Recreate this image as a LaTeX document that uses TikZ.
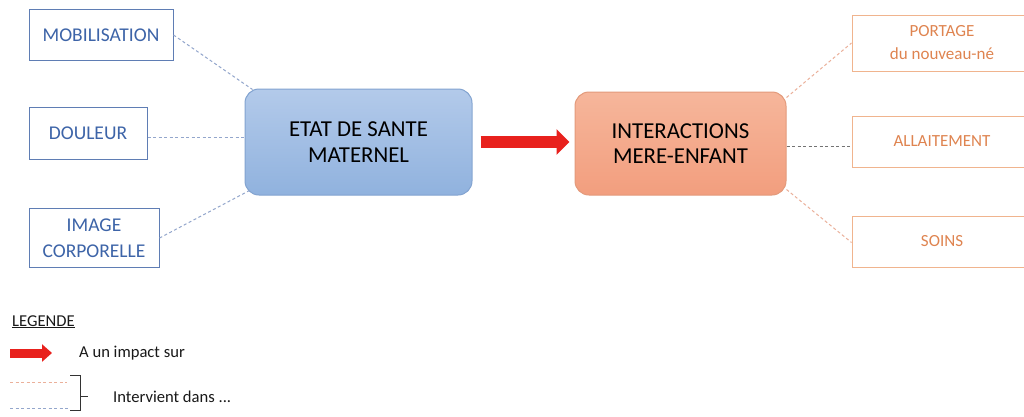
\documentclass[tikz,border=0pt]{standalone}
\usepackage{fontspec}
\setmainfont{Carlito}
\usetikzlibrary{arrows.meta,calc}
\definecolor{bluetxt}{HTML}{3D64A8}
\definecolor{blueline}{HTML}{5F7DB4}
\definecolor{bluedash}{HTML}{93A6CC}
\definecolor{orangetxt}{HTML}{DF8450}
\definecolor{orangeline}{HTML}{F0B48E}
\definecolor{orangedash}{HTML}{EBB09A}
\definecolor{redarrow}{HTML}{E8211D}
\definecolor{etattop}{HTML}{B3CAEA}
\definecolor{etatbot}{HTML}{90B2DE}
\definecolor{etatbd}{HTML}{82A3D0}
\definecolor{intertop}{HTML}{F6B69B}
\definecolor{interbot}{HTML}{F29E7E}
\definecolor{interbd}{HTML}{E39A7B}
\tikzset{
  leftbox/.style={draw=blueline, line width=1pt, text=bluetxt, align=center,
    font=\fontsize{19.5}{26}\selectfont, inner sep=0pt},
  rightbox/.style={draw=orangeline, line width=1pt, text=orangetxt, align=center,
    font=\fontsize{17}{23}\selectfont, inner sep=0pt, minimum width=180pt},
  bigbox/.style={rounded corners=14pt, line width=1pt, align=center, text=black,
    font=\fontsize{22.8}{25.5}\selectfont, inner sep=0pt},
  bluedashed/.style={draw=bluedash, line width=1pt, dash pattern=on 3pt off 2.5pt},
  orangedashed/.style={draw=orangedash, line width=1pt, dash pattern=on 3pt off 2.5pt},
  greydashed/.style={draw=black!55, line width=0.9pt, dash pattern=on 3pt off 2.5pt},
  legendtxt/.style={font=\fontsize{16.6}{19}\selectfont, text=black!90, anchor=base west, inner sep=0pt},
}
\begin{document}
\begin{tikzpicture}[x=1pt,y=-1pt]
\clip (0,0) rectangle (1024,416);
\fill[white] (0,0) rectangle (1024,416);

% left boxes
\node[leftbox, minimum width=144pt, minimum height=51pt] (mob) at (101,35) {MOBILISATION};
\node[leftbox, minimum width=118pt, minimum height=52pt] (dou) at (88,133) {DOULEUR};
\node[leftbox, minimum width=130pt, minimum height=59pt] (img) at (94,238) {IMAGE\\CORPORELLE};

% central boxes
\node[bigbox, draw=etatbd, top color=etattop, bottom color=etatbot,
  minimum width=227pt, minimum height=106pt] (etat) at (358.5,142) {ETAT DE SANTE\\MATERNEL};
\node[bigbox, draw=interbd, top color=intertop, bottom color=interbot,
  minimum width=211pt, minimum height=103pt] (inter) at (680.5,143.5) {INTERACTIONS\\MERE-ENFANT};

% right boxes
\node[rightbox, minimum height=56pt] (port) at (942,43) {PORTAGE\\du nouveau-né};
\node[rightbox, minimum height=51pt] (alla) at (942,141.5) {ALLAITEMENT};
\node[rightbox, minimum height=51pt] (soin) at (942,241.5) {SOINS};

% dashed connectors
\draw[bluedashed] (mob.east) -- ([xshift=8pt,yshift=-1pt]etat.north west);
\draw[bluedashed] ([yshift=-4pt]dou.east) -- ([yshift=-4pt]dou.east -| etat.west);
\draw[bluedashed] (img.east) -- ([xshift=5pt,yshift=5pt]etat.south west);
\draw[orangedashed] ([yshift=-6pt]inter.north east) -- (port.west);
\draw[greydashed] ([yshift=-2.5pt]inter.east) -- ([yshift=-2.5pt]inter.east -| alla.west);
\draw[orangedashed] ([yshift=6pt]inter.south east) -- ([yshift=-1pt]soin.west);

% red arrow
\draw[redarrow, line width=12pt, shorten <=8pt, shorten >=5pt,
  -{Triangle[length=13pt 0 0, width=25pt 0 0]}] (etat.east) -- (inter.west |- etat.east);

% legend
\node[legendtxt] (leg) at (12,326) {\underline{LEGENDE}};
\coordinate (la1) at (10,353);
\coordinate (la2) at (52,353);
\draw[redarrow, line width=9pt, -{Triangle[length=10pt 0 0, width=17pt 0 0]}] (la1) -- (la2);
\node[legendtxt] (impact) at (79,357) {A un impact sur};
\coordinate (lo1) at (10,382);
\coordinate (lo2) at (67,382);
\coordinate (lb1) at (10,408);
\coordinate (lb2) at (70,408);
\draw[orangedashed] (lo1) -- (lo2);
\draw[bluedashed] (lb1) -- (lb2);
\coordinate (br1) at (70,375);
\coordinate (br2) at (80,375);
\coordinate (br3) at (80,410);
\coordinate (br4) at (70,410);
\coordinate (brm) at (80,396);
\coordinate (brt) at (88,396);
\draw[black!80, line width=0.9pt] (br1) -- (br2) -- (br3) -- (br4);
\draw[black!80, line width=0.9pt] (brm) -- (brt);
\node[legendtxt] (interv) at (113,402) {Intervient dans ...};
\end{tikzpicture}
\end{document}
